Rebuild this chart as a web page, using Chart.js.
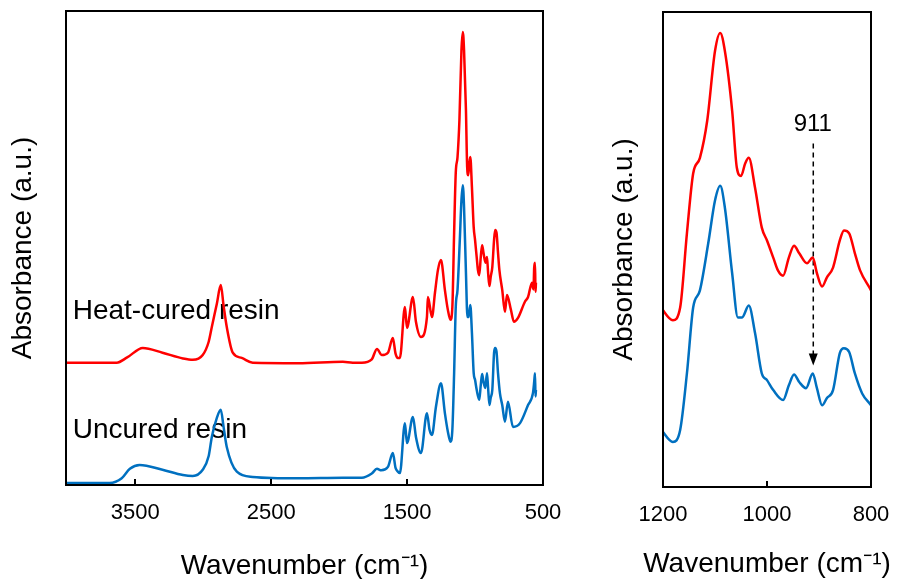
<!DOCTYPE html>
<html>
<head>
<meta charset="utf-8">
<script src="https://cdn.jsdelivr.net/npm/chart.js@4.4.1/dist/chart.umd.min.js"></script>
<style>
  body { margin: 0; background: #fff; }
  #wrap { position: relative; width: 898px; height: 579px; }
  #leftBox { position: absolute; left: 0; top: 0; }
  #rightBox { position: absolute; left: 580px; top: 0; }
</style>
</head>
<body>
<div id="wrap">
  <div id="leftBox"><canvas id="leftChart" width="580" height="579"></canvas></div>
  <div id="rightBox"><canvas id="rightChart" width="318" height="579"></canvas></div>
</div>
<script>
// spectra (wavenumber in cm-1, absorbance in arbitrary units)
const heatWn = [4005, 3637, 3560, 3445, 3300, 3150, 3077, 3004, 2960, 2937, 2900, 2871, 2850, 2827, 2783, 2717, 2636, 2300, 1973, 1900, 1833, 1760, 1722, 1686, 1641, 1605, 1585, 1568, 1553, 1516, 1501, 1457, 1435, 1398, 1354, 1347, 1317, 1295, 1273, 1251, 1222,
  1200, 1181, 1167, 1154, 1142, 1129, 1115, 1100, 1090, 1081, 1067, 1058, 1050, 1042, 1035, 1023, 1010, 1000, 988, 979, 969, 958, 948, 938, 923, 912, 904, 894, 885, 873, 860, 852, 842, 831, 821, 800,
  780, 765, 736, 714, 684, 633, 610, 581, 570, 565, 559, 555, 552];
const heatAbs = [26.1, 26.1, 27.2, 29.2, 28.2, 27.0, 26.7, 27.7, 30.5, 33.6, 38.5, 42.4, 38.0, 33.6, 28.2, 27.1, 26.1, 26.0, 26.3, 26.1, 26.1, 26.8, 29.0, 27.7, 28.2, 31.3, 28.0, 27.1, 27.1, 37.8, 33.4, 39.9, 34.7, 31.5, 35.7, 39.9, 35.7, 40.8, 45.6, 47.7, 41.4,
  37.2, 35.1, 37.8, 53.4, 66.0, 69.3, 77.1, 91.8, 95.6, 91.8, 79.2, 67.2, 65.5, 68.1, 69.3, 63.0, 54.6, 51.9, 48.3, 45.6, 44.5, 48.3, 50.8, 49.2, 47.1, 48.3, 45.0, 42.2, 44.1, 46.2, 51.9, 54.0, 53.4, 49.2, 45.6, 41.4,
  36.8, 40.3, 37.2, 34.7, 35.5, 38.9, 39.9, 42.9, 41.5, 46.0, 47.1, 41.0, 42.9];

const uncuredWn = [4005, 3689, 3600, 3540, 3468, 3300, 3150, 3077, 3004, 2960, 2937, 2900, 2871, 2850, 2827, 2753, 2636, 2300, 1973, 1833, 1760, 1722, 1690, 1641, 1605, 1585, 1568, 1553, 1516, 1501, 1457, 1435, 1398, 1354, 1335, 1317, 1288, 1251, 1222,
  1200, 1181, 1167, 1154, 1142, 1129, 1113, 1100, 1090, 1081, 1067, 1056, 1048, 1035, 1023, 1010, 1000, 988, 969, 958, 948, 938, 925, 912, 904, 894, 885, 873, 860, 852, 842, 831, 817, 800,
  780, 758, 721, 669, 610, 574, 565, 559, 555, 552];
const uncuredAbs = [0.8, 0.8, 1.8, 3.8, 4.6, 3.6, 2.5, 2.3, 3.6, 6.5, 10.5, 14.5, 16.2, 12.5, 8.4, 3.2, 2.1, 1.8, 1.9, 1.9, 2.8, 3.8, 3.5, 4.2, 7.1, 4.0, 3.2, 2.9, 13.4, 9.2, 14.7, 10.5, 7.1, 15.5, 12.0, 10.9, 16.8, 21.8, 15.5,
  11.6, 9.5, 12.0, 23.9, 37.8, 41.4, 51.3, 60.3, 63.4, 58.8, 45.0, 35.7, 35.7, 38.2, 32.4, 23.9, 22.5, 20.4, 18.3, 21.4, 23.7, 22.1, 20.8, 23.9, 20.8, 17.2, 18.7, 20.4, 28.2, 29.2, 28.4, 23.9, 19.7, 17.2,
  13.7, 17.9, 12.6, 13.4, 17.2, 19.7, 22.0, 23.9, 19.0, 20.4];

const leftTicks = [3500, 2500, 1500, 500];
const rightTicks = [1200, 1000, 800];
const leftRange = [500, 4010];
const rightRange = [800, 1200];

const seriesLabels = ['Heat-cured resin', 'Uncured resin'];
const peakLabel = '911';
const xTitle = 'Wavenumber (cm\u207B\u00B9)';
const yTitle = 'Absorbance (a.u.)';

const FONT = "'Liberation Sans', Arial, sans-serif";

function toPoints(wn, abs) {
    return wn.map((w, i) => ({ x: w, y: abs[i] }));
}

function makeDatasets() {
    return [
        { label: seriesLabels[0], data: toPoints(heatWn, heatAbs), borderColor: '#ff0000' },
        { label: seriesLabels[1], data: toPoints(uncuredWn, uncuredAbs), borderColor: '#0070c0' }
    ].map(d => Object.assign(d, {
        borderWidth: 2.5,
        pointRadius: 0,
        fill: false,
        cubicInterpolationMode: 'monotone'
    }));
}

// frame, inward ticks, x title and the text/arrow notes
const panelNotes = {
    id: 'panelNotes',
    beforeDatasetsDraw(chart, args, opts) {
        const { ctx, scales: { x, y } } = chart;
        ctx.save();
        ctx.fillStyle = '#000';
        (opts.labels || []).forEach(l => {
            ctx.font = l.size + 'px ' + FONT;
            ctx.textAlign = l.align || 'left';
            ctx.textBaseline = 'alphabetic';
            ctx.fillText(l.text, x.getPixelForValue(l.x), y.getPixelForValue(l.y));
        });
        if (opts.arrow) {
            const a = opts.arrow;
            const px = x.getPixelForValue(a.x);
            const y0 = y.getPixelForValue(a.from);
            const y1 = y.getPixelForValue(a.to);
            ctx.strokeStyle = '#000';
            ctx.lineWidth = 1.5;
            ctx.setLineDash([5, 4]);
            ctx.beginPath();
            ctx.moveTo(px, y0);
            ctx.lineTo(px, y1 - 11);
            ctx.stroke();
            ctx.setLineDash([]);
            ctx.beginPath();
            ctx.moveTo(px - 4.5, y1 - 12);
            ctx.lineTo(px + 4.5, y1 - 12);
            ctx.lineTo(px, y1);
            ctx.closePath();
            ctx.fill();
        }
        ctx.restore();
    },
    afterDraw(chart, args, opts) {
        const { ctx, chartArea: a, scales: { x } } = chart;
        ctx.save();
        ctx.strokeStyle = '#000';
        ctx.lineWidth = 2;
        ctx.strokeRect(a.left, a.top, a.right - a.left, a.bottom - a.top);
        x.ticks.forEach(t => {
            const px = Math.round(x.getPixelForValue(t.value));
            ctx.beginPath();
            ctx.moveTo(px, a.bottom);
            ctx.lineTo(px, a.bottom - 6);
            ctx.stroke();
        });
        ctx.fillStyle = '#000';
        ctx.font = '28px ' + FONT;
        ctx.textAlign = 'center';
        ctx.textBaseline = 'alphabetic';
        ctx.fillText(xTitle, (a.left + a.right) / 2, a.bottom + opts.titleGap);
        ctx.restore();
    }
};

function buildOptions(cfg) {
    return {
        responsive: false,
        animation: false,
        layout: { padding: { top: cfg.top, right: cfg.right, bottom: 0, left: 0 } },
        plugins: {
            legend: { display: false },
            tooltip: { enabled: false },
            panelNotes: cfg.notes
        },
        scales: {
            x: {
                type: 'linear',
                reverse: true,
                min: cfg.range[0],
                max: cfg.range[1],
                afterBuildTicks: axis => { axis.ticks = cfg.ticks.map(v => ({ value: v })); },
                afterFit: axis => { axis.height = cfg.xHeight; },
                ticks: {
                    color: '#000',
                    font: { family: FONT, size: 22, lineHeight: 1 },
                    padding: 0,
                    maxRotation: 0,
                    autoSkip: false,
                    callback: v => String(v)
                },
                grid: {
                    drawOnChartArea: false,
                    drawTicks: true,
                    tickLength: 17,
                    tickColor: 'rgba(0,0,0,0)'
                },
                border: { display: false },
                title: { display: false }
            },
            y: {
                min: cfg.yRange[0],
                max: cfg.yRange[1],
                afterFit: axis => { axis.width = cfg.yWidth; },
                ticks: { display: false },
                grid: { display: false },
                border: { display: false },
                title: {
                    display: true,
                    text: yTitle,
                    color: '#000',
                    font: { family: FONT, size: 28, lineHeight: 1 },
                    padding: { top: cfg.yTitlePad, bottom: 0 }
                }
            }
        }
    };
}

new Chart(document.getElementById('leftChart'), {
    type: 'line',
    data: { datasets: makeDatasets() },
    options: buildOptions({
        range: leftRange,
        yRange: [0.4, 100],
        ticks: leftTicks,
        top: 11,
        right: 37,
        xHeight: 94,
        yWidth: 66,
        yTitlePad: 9,
        notes: {
            titleGap: 89,
            labels: [
                { text: seriesLabels[0], x: 3961, y: 35.3, size: 28 },
                { text: seriesLabels[1], x: 3961, y: 10.3, size: 28 }
            ]
        }
    }),
    plugins: [panelNotes]
});

new Chart(document.getElementById('rightChart'), {
    type: 'line',
    data: { datasets: makeDatasets() },
    options: buildOptions({
        range: rightRange,
        yRange: [0, 100],
        ticks: rightTicks,
        top: 12,
        right: 27,
        xHeight: 92,
        yWidth: 83,
        yTitlePad: 30,
        notes: {
            titleGap: 85,
            labels: [
                { text: peakLabel, x: 912, y: 75.0, size: 24, align: 'center' }
            ],
            arrow: { x: 911, from: 72.3, to: 25.6 }
        }
    }),
    plugins: [panelNotes]
});
</script>
</body>
</html>
